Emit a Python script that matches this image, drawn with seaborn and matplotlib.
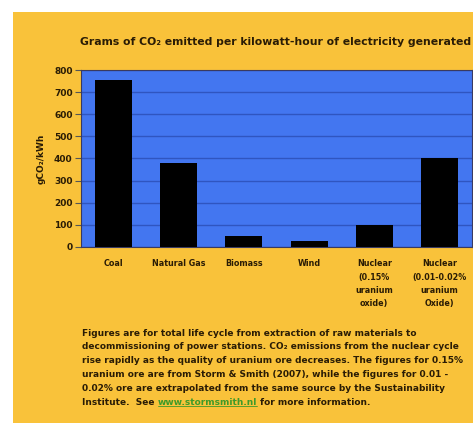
import matplotlib
matplotlib.use("Agg")
import matplotlib.pyplot as plt
import seaborn as sns
import pandas as pd
from matplotlib.patches import Rectangle

# Emission figures per source (gCO2 per kWh)
sources = ["Coal", "Natural Gas", "Biomass", "Wind",
           "Nuclear\n(0.15%\nuranium\noxide)", "Nuclear\n(0.01-0.02%\nuranium\nOxide)"]
grams = [755, 380, 48, 25, 100, 400]
yticks = [0, 100, 200, 300, 400, 500, 600, 700, 800]

YELLOW = "#F9C23A"
BLUE = "#4376F0"
GRID = "#2F55C0"
INK = "#2A1C05"
FONT = ["DejaVu Sans"]

sns.set_theme(style="white")
plt.rcParams["font.family"] = FONT
plt.rcParams["font.weight"] = "bold"

W, H = 473, 423
fig = plt.figure(figsize=(W / 100, H / 100), dpi=100)
fig.patch.set_facecolor("white")
fig.patches.append(Rectangle((13 / W, 0), 1, 1 - 12 / H, transform=fig.transFigure,
                             facecolor=YELLOW, edgecolor="none", zorder=-10))

ax = fig.add_axes([81 / W, 1 - 247 / H, 391 / W, 177 / H])
ax.set_zorder(5)
df = pd.DataFrame({"source": sources, "grams": grams})
sns.barplot(data=df, x="source", y="grams", color="black", width=0.57,
            saturation=1, ax=ax, zorder=3, edgecolor="black", linewidth=0)
ax.set_facecolor(BLUE)
ax.set_ylim(0, 800)
ax.set_xlim(-0.5, 5.5)
ax.set_yticks(yticks)
ax.set_yticklabels([str(v) for v in yticks], fontsize=6.5, color=INK, fontweight="bold")
ax.yaxis.grid(True, color=GRID, linewidth=1.0, zorder=1)
ax.set_axisbelow(True)
ax.tick_params(axis="y", length=4, width=0.8, color="#555555", pad=2, left=True)
ax.tick_params(axis="x", length=0, pad=9)
for lab in ax.get_xticklabels():
    lab.set_fontsize(5.8)
    lab.set_fontweight("bold")
    lab.set_color(INK)
    lab.set_linespacing(1.6)
    lab.set_verticalalignment("top")
for side, sp in ax.spines.items():
    sp.set_visible(True)
    sp.set_color("#3A3A60")
    sp.set_linewidth(0.8)
ax.set_xlabel("")
ax.set_ylabel("gCO₂/kWh", fontsize=6.5, color=INK, fontweight="bold", labelpad=6)

fig.text(80 / W, 1 - 42 / H,
         "Grams of CO₂ emitted per kilowatt-hour of electricity generated",
         fontsize=7.8, fontweight="bold", color=INK, va="center", ha="left")

notes = [
    "Figures are for total life cycle from extraction of raw materials to",
    "decommissioning of power stations. CO₂ emissions from the nuclear cycle",
    "rise rapidly as the quality of uranium ore decreases. The figures for 0.15%",
    "uranium ore are from Storm & Smith (2007), while the figures for 0.01 -",
    "0.02% ore are extrapolated from the same source by the Sustainability",
]
NOTE_FS = 6.5
y0 = 333
step = 13.8
for i, line in enumerate(notes):
    fig.text(82 / W, 1 - (y0 + i * step) / H, line, fontsize=NOTE_FS,
             fontweight="bold", color=INK, va="center", ha="left")

# last line with the link drawn in green and underlined
fig.canvas.draw()
renderer = fig.canvas.get_renderer()
yl = 1 - (y0 + 5 * step) / H
t1 = fig.text(82 / W, yl, "Institute.  See ", fontsize=NOTE_FS, fontweight="bold",
              color=INK, va="center", ha="left")
bb1 = t1.get_window_extent(renderer)
t2 = fig.text(bb1.x1 / W, yl, "www.stormsmith.nl", fontsize=NOTE_FS, fontweight="bold",
              color="#3E9A2A", va="center", ha="left")
bb2 = t2.get_window_extent(renderer)
fig.add_artist(plt.Line2D([bb2.x0 / W, bb2.x1 / W], [bb2.y0 / H + 0.001, bb2.y0 / H + 0.001],
                          color="#3E9A2A", linewidth=0.6, transform=fig.transFigure))
fig.text(bb2.x1 / W, yl, " for more information.", fontsize=NOTE_FS, fontweight="bold",
         color=INK, va="center", ha="left")

fig.savefig("out.png", dpi=100, facecolor=fig.get_facecolor())
